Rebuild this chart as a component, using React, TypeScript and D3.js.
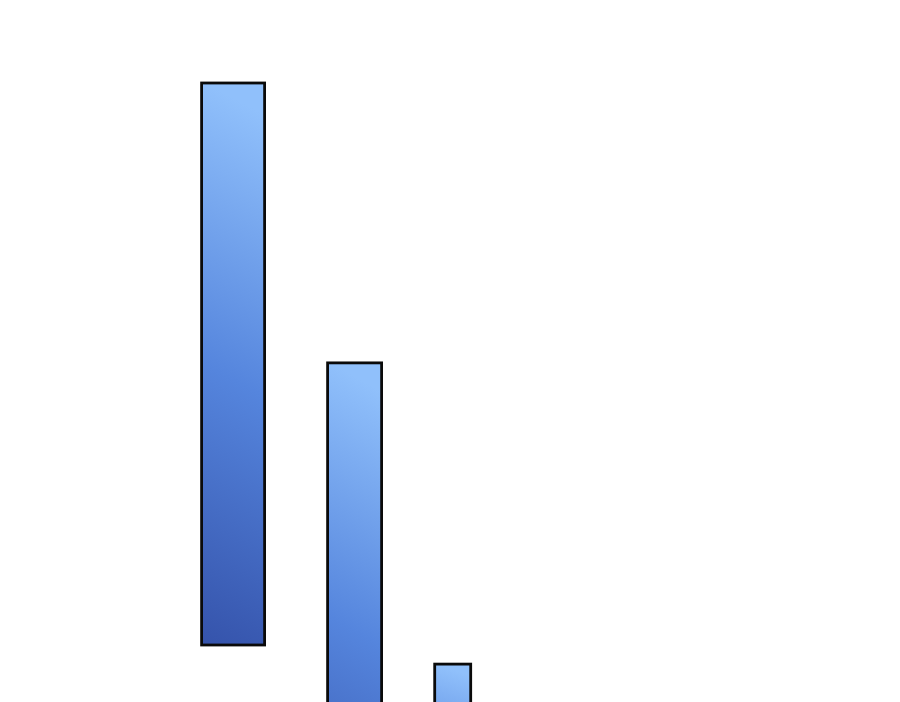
import React, { useEffect, useRef } from "react";
import * as d3 from "d3";

// Floating bars: horizontal extent (bin start/end) and vertical extent (low/high)
const categories = ["A", "B", "C"];
const binStart = [22.4, 36.4, 48.3];
const binEnd = [29.4, 42.4, 52.3];
const highValues = [100, 50.2, -3.4];
const lowValues = [0, -40, -40];

const WIDTH = 900;
const HEIGHT = 702;

const App: React.FC = () => {
	const svgRef = useRef<SVGSVGElement | null>(null);

	useEffect(() => {
		if (!svgRef.current) return;
		const svg = d3.select(svgRef.current);
		svg.selectAll("*").remove();

		const xScale = d3.scaleLinear().domain([0, 100]).range([0, WIDTH]);
		// 100 -> y 83, 0 -> y 645
		const yScale = d3.scaleLinear().domain([0, 100]).range([645, 83]);

		const defs = svg.append("defs");
		const grad = defs
			.append("linearGradient")
			.attr("id", "barGrad")
			.attr("x1", 0)
			.attr("y1", 1)
			.attr("x2", 0.06)
			.attr("y2", 0);
		grad.append("stop").attr("offset", "0%").attr("stop-color", "#3553ab");
		grad.append("stop").attr("offset", "50%").attr("stop-color", "#5585dd");
		grad.append("stop").attr("offset", "100%").attr("stop-color", "#90c0fb");

		const data = categories.map((c, i) => ({
			c,
			x0: binStart[i],
			x1: binEnd[i],
			lo: lowValues[i],
			hi: highValues[i],
		}));

		svg
			.append("g")
			.selectAll("rect")
			.data(data)
			.join("rect")
			.attr("x", (d) => xScale(d.x0))
			.attr("width", (d) => xScale(d.x1) - xScale(d.x0))
			.attr("y", (d) => yScale(d.hi))
			.attr("height", (d) => yScale(d.lo) - yScale(d.hi))
			.attr("fill", "url(#barGrad)")
			.attr("stroke", "#0a0a0a")
			.attr("stroke-width", 2.8);
	}, []);

	return (
		<svg
			ref={svgRef}
			width={WIDTH}
			height={HEIGHT}
			style={{ position: "absolute", left: 0, top: 0, background: "#fff" }}
		/>
	);
};

export default App;
